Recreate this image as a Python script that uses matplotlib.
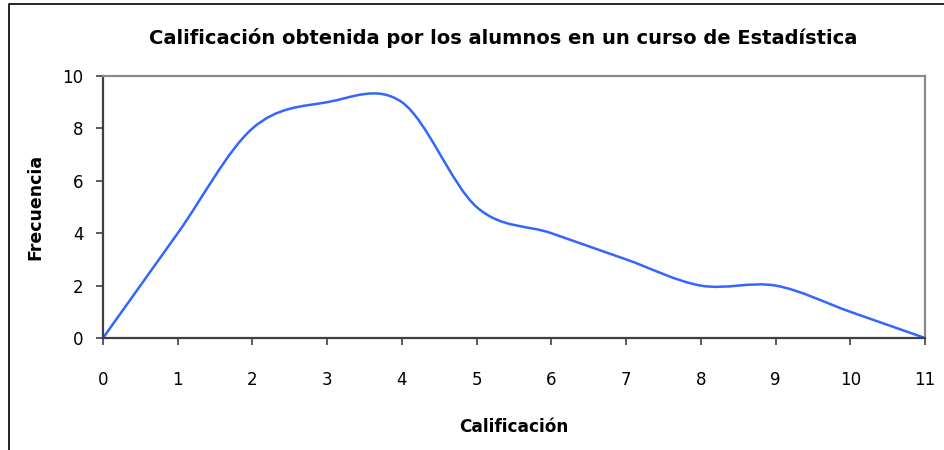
import numpy as np
import matplotlib
matplotlib.use("Agg")
import matplotlib.pyplot as plt
from matplotlib.path import Path
from matplotlib.patches import PathPatch
from matplotlib.lines import Line2D

calificacion = [0, 1, 2, 3, 4, 5, 6, 7, 8, 9, 10, 11]
frecuencia = [0, 4, 8, 9, 9, 5, 4, 3, 2, 2, 1, 0]

title = "Calificación obtenida por los alumnos en un curso de Estadística"
xlabel = "Calificación"
ylabel = "Frecuencia"

plt.rcParams['font.family'] = ['DejaVu Sans']

fig = plt.figure(figsize=(9.45, 4.5), dpi=100)
ax = fig.add_axes([103 / 945, 112 / 450, 822 / 945, 262 / 450])

# Excel-style smoothed line: cubic bezier segments through the points
px = np.array(calificacion, dtype=float)
py = np.array(frecuencia, dtype=float)
n = len(px)
verts = [(px[0], py[0])]
codes = [Path.MOVETO]
for i in range(n - 1):
    a = max(i - 1, 0)
    d = min(i + 2, n - 1)
    c1 = (px[i] + (px[i + 1] - px[a]) / 6, py[i] + (py[i + 1] - py[a]) / 6)
    c2 = (px[i + 1] - (px[d] - px[i]) / 6, py[i + 1] - (py[d] - py[i]) / 6)
    verts += [c1, c2, (px[i + 1], py[i + 1])]
    codes += [Path.CURVE4] * 3
ax.add_patch(PathPatch(Path(verts, codes), facecolor='none',
                       edgecolor='#3366ff', lw=1.8, clip_on=False))

ax.set_xlim(0, 11)
ax.set_ylim(0, 10)
ax.set_xticks(calificacion)
ax.set_yticks([0, 2, 4, 6, 8, 10])

for s in ['left', 'bottom']:
    ax.spines[s].set_color('#404040')
    ax.spines[s].set_linewidth(1.6)
for s in ['top', 'right']:
    ax.spines[s].set_color('#8a8a8a')
    ax.spines[s].set_linewidth(1.6)

ax.tick_params(axis='x', direction='out', length=5, width=1.2, color='#404040',
               pad=19, labelsize=12)
ax.tick_params(axis='y', direction='out', length=5, width=1.2, color='#404040',
               pad=9, labelsize=12)

fig.text(503 / 945, 1 - 38 / 450, title, ha='center', va='center',
         fontsize=14, fontweight='bold')
fig.text(514 / 945, 1 - 427 / 450, xlabel, ha='center', va='center',
         fontsize=12.2, fontweight='bold')
fig.text(35 / 945, 1 - 207 / 450, ylabel, ha='center', va='center',
         fontsize=12.5, fontweight='bold', rotation=90)

# frame around the chart
fig.add_artist(Line2D([9 / 945, 9 / 945, 1], [0, 1 - 4 / 450, 1 - 4 / 450],
                      transform=fig.transFigure, color='black', lw=1.2))

fig.savefig("out.png", dpi=100)
